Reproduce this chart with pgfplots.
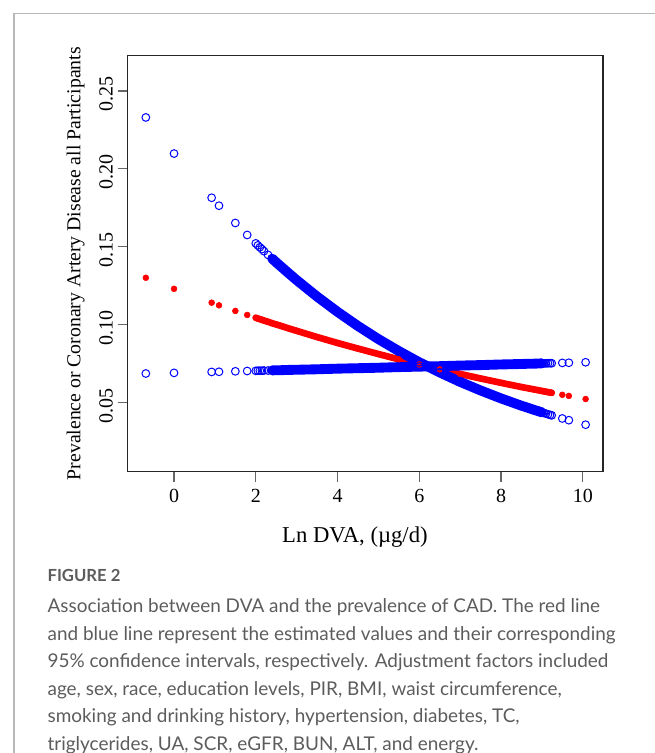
\documentclass[border=0pt]{standalone}
\usepackage{fontspec}
\setmainfont{Liberation Serif}
\newfontfamily\capfont{Lato}
\newfontfamily\plotfont{Liberation Serif}
\usepackage{pgfplots}
\pgfplotsset{compat=1.18}
\usepackage{pgfplotstable}

\definecolor{frame}{HTML}{B8B8B8}
\definecolor{captxt}{HTML}{5C5C5C}

% x = Ln DVA, est = estimate (red), c1/c2 = 95% CI bounds (blue)
\pgfplotstableread{
x     est    c1     c2
-0.69 0.1300 0.2330 0.0685
0     0.1229 0.2098 0.0689
0.92  0.1140 0.1814 0.0695
1.10  0.1123 0.1763 0.0696
1.50  0.1087 0.1652 0.0699
1.79  0.1061 0.1575 0.0701
2.00  0.1043 0.1521 0.0702
2.05  0.1038 0.1508 0.0703
2.10  0.1034 0.1496 0.0703
2.15  0.1030 0.1484 0.0703
2.20  0.1025 0.1471 0.0704
2.30  0.1017 0.1447 0.0704
2.40  0.1008 0.1423 0.0705
2.50  0.1000 0.1399 0.0706
2.60  0.0992 0.1376 0.0706
2.80  0.0975 0.1330 0.0708
3.00  0.0959 0.1285 0.0709
3.50  0.0919 0.1179 0.0712
4.00  0.0881 0.1081 0.0716
4.50  0.0845 0.0990 0.0719
5.00  0.0810 0.0906 0.0722
5.50  0.0776 0.0829 0.0726
6.00  0.0743 0.0757 0.0729
6.50  0.0712 0.0692 0.0732
7.00  0.0682 0.0631 0.0736
7.50  0.0653 0.0576 0.0739
8.00  0.0625 0.0525 0.0743
8.50  0.0598 0.0478 0.0746
8.70  0.0588 0.0461 0.0748
8.80  0.0583 0.0452 0.0748
8.90  0.0578 0.0444 0.0749
9.00  0.0573 0.0435 0.0750
9.05  0.0570 0.0431 0.0750
9.10  0.0568 0.0427 0.0750
9.15  0.0565 0.0423 0.0751
9.20  0.0563 0.0419 0.0751
9.24  0.0561 0.0416 0.0751
9.50  0.0548 0.0396 0.0753
9.66  0.0541 0.0385 0.0754
10.07 0.0521 0.0356 0.0757
}\dvadata

\begin{document}
\begin{tikzpicture}
\path[use as bounding box] (0,0) rectangle (491.25pt,564.75pt);
\draw[frame, line width=1.1pt] (10.5pt,0) -- (10.5pt,554.8pt) -- (491.25pt,554.8pt);

\begin{axis}[at={(95.8pt,210.98pt)}, anchor=south west, scale only axis,
  width=356.5pt, height=312pt,
  xmin=-1.133, xmax=10.497, ymin=0.00541, ymax=0.27268,
  axis line style={black!85, line width=0.9pt},
  xtick={0,2,4,6,8,10}, ytick={0.05,0.10,0.15,0.20,0.25},
  tick align=outside, xtick pos=bottom, ytick pos=left,
  major tick length=7.5pt, tick style={black!60, line width=0.9pt},
  tick label style={font=\plotfont\fontsize{15}{15}\selectfont, /pgf/number format/assume math mode=true},
  xticklabel style={yshift=-2pt},
  yticklabel style={rotate=90, anchor=south, xshift=-2.5pt, /pgf/number format/fixed,
    /pgf/number format/fixed zerofill, /pgf/number format/precision=2},
  scaled y ticks=false,
  xlabel={Ln DVA, (µg/d)},
  xlabel style={font=\plotfont\fontsize{17}{17}\selectfont, at={(axis description cs:0.478,-0.15625)}, anchor=center},
  ylabel={Prevalence or Coronary Artery Disease all Participants},
  ylabel style={font=\plotfont\fontsize{14.8}{14.8}\selectfont, at={(axis description cs:-0.1094,0.5)}, anchor=center},
  clip=false]

% estimate (red): dense part drawn as a thick line, plus dots
\addplot[red, line width=5pt, line cap=round, mark=none, restrict x to domain=2.0:9.24]
  table[x=x, y=est] {\dvadata};
\addplot[only marks, mark=*, mark size=2.2pt, mark options={red, fill=red, draw=red}]
  table[x=x, y=est] {\dvadata};

% confidence bounds (blue)
\addplot[blue, line width=7.4pt, line cap=round, mark=none, restrict x to domain=2.4:9.0]
  table[x=x, y=c1] {\dvadata};
\addplot[blue, line width=7.4pt, line cap=round, mark=none, restrict x to domain=2.4:9.0]
  table[x=x, y=c2] {\dvadata};
\addplot[only marks, mark=o, mark size=2.9pt, mark options={blue, line width=0.75pt}]
  table[x=x, y=c1] {\dvadata};
\addplot[only marks, mark=o, mark size=2.9pt, mark options={blue, line width=0.75pt}]
  table[x=x, y=c2] {\dvadata};
\end{axis}

\node[anchor=base west, inner sep=0, text=captxt, font=\capfont\bfseries\fontsize{12.5}{12.5}\selectfont] at (35.5pt,128.25pt) {FIGURE 2};
\begin{scope}[every node/.style={anchor=base west, inner sep=0, text=captxt, font=\capfont\fontsize{14.2}{14.2}\selectfont}]
\node at (35.5pt,105pt) {Association between DVA and the prevalence of CAD. The red line};
\node at (35.5pt,84.375pt) {and blue line represent the estimated values and their corresponding};
\node at (35.5pt,63.75pt) {95\% confidence intervals, respectively. Adjustment factors included};
\node at (35.5pt,43.125pt) {age, sex, race, education levels, PIR, BMI, waist circumference,};
\node at (35.5pt,22.5pt) {smoking and drinking history, hypertension, diabetes, TC,};
\node at (35.5pt,1.875pt) {triglycerides, UA, SCR, eGFR, BUN, ALT, and energy.};
\end{scope}
\end{tikzpicture}
\end{document}
